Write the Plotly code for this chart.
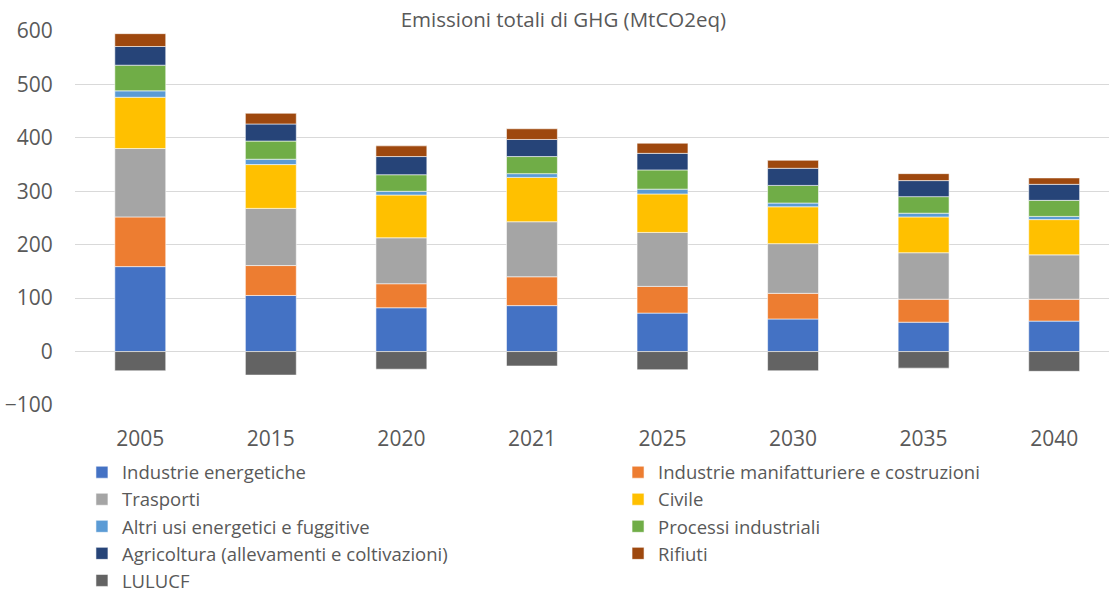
import plotly.graph_objects as go

anni = ["2005", "2015", "2020", "2021", "2025", "2030", "2035", "2040"]

industrie_energetiche = [159, 105, 82, 86, 72, 61, 55, 57]
industrie_manifatturiere = [93, 56, 45, 54, 50, 48, 43, 41]
trasporti = [128, 107, 86, 103, 101, 93, 87, 83]
civile = [96, 82, 80, 83, 72, 69, 67, 66]
altri_usi = [12, 10, 7, 7, 9, 7, 7, 6]
processi_industriali = [48, 34, 31, 32, 36, 33, 31, 30]
agricoltura = [35, 32, 34, 32, 31, 32, 30, 30]
rifiuti = [24, 20, 20, 20, 19, 15, 13, 12]
lulucf = [-36, -44, -33, -27, -34, -36, -31, -37]

# (name, values, colour, legend column)
serie = [
    ("Industrie energetiche", industrie_energetiche, "#4472C4", "legend"),
    ("Industrie manifatturiere e costruzioni", industrie_manifatturiere, "#ED7D31", "legend2"),
    ("Trasporti", trasporti, "#A5A5A5", "legend"),
    ("Civile", civile, "#FFC000", "legend2"),
    ("Altri usi energetici e fuggitive", altri_usi, "#5B9BD5", "legend"),
    ("Processi industriali", processi_industriali, "#70AD47", "legend2"),
    ("Agricoltura (allevamenti e coltivazioni)", agricoltura, "#264478", "legend"),
    ("Rifiuti", rifiuti, "#9E480E", "legend2"),
    ("LULUCF", lulucf, "#636363", "legend"),
]

FONT = "Open Sans, Arial, sans-serif"
TXT = "#595959"

fig = go.Figure()
for nome, valori, colore, leg in serie:
    fig.add_trace(go.Bar(
        x=anni, y=valori, name=nome, legend=leg,
        marker=dict(color=colore, line=dict(color="rgba(255,255,255,0.7)", width=0.8)),
    ))

legend_style = dict(orientation="v", xref="container", yref="container",
                    xanchor="left", yanchor="top", traceorder="normal",
                    font=dict(family=FONT, size=18.5, color=TXT), itemclick=False,
                    bgcolor="rgba(0,0,0,0)")

fig.update_layout(
    width=1109, height=595,
    barmode="relative",
    bargap=0.61,
    plot_bgcolor="white", paper_bgcolor="white",
    margin=dict(l=75, r=0, t=31, b=190, autoexpand=False),
    font=dict(family=FONT, size=21, color=TXT),
    title=dict(text="Emissioni totali di GHG (MtCO2eq)", x=0.508, xanchor="center",
               y=0.966, yanchor="middle", font=dict(family=FONT, size=20.5, color=TXT)),
    showlegend=True,
    legend=dict(x=0.0739, y=0.2375, **legend_style),
    legend2=dict(x=0.5573, y=0.2375, **legend_style),
)
fig.update_xaxes(range=[-0.5, 7.42], showgrid=False, showline=False, zeroline=False,
                 ticks="outside", ticklen=15, tickcolor="rgba(0,0,0,0)",
                 tickfont=dict(family=FONT, size=21, color=TXT))
fig.update_yaxes(range=[-100, 600], dtick=100, showgrid=True, gridcolor="#D9D9D9",
                 gridwidth=1.3, zeroline=False, showline=False,
                 ticks="outside", ticklen=17, tickcolor="rgba(0,0,0,0)",
                 tickfont=dict(family=FONT, size=21, color=TXT))

fig.write_html("out.html")
